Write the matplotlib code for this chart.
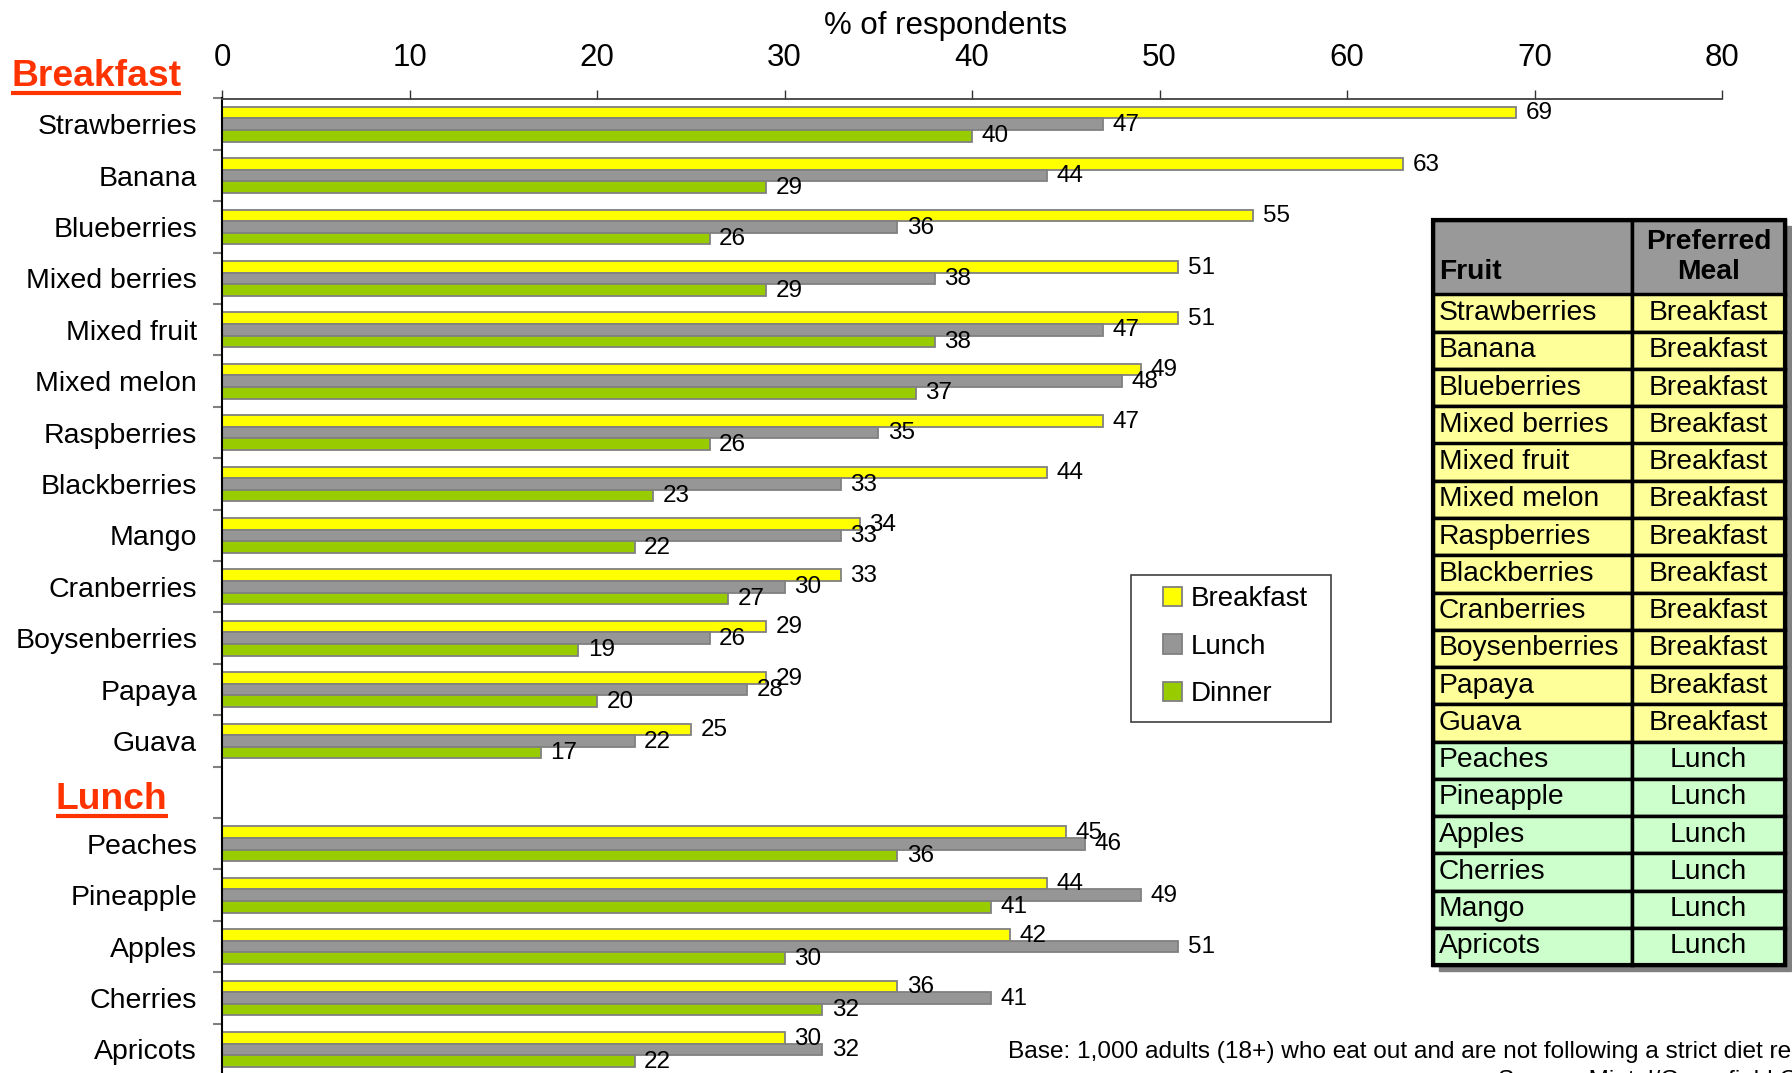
import numpy as np
import matplotlib
matplotlib.use("Agg")
import matplotlib.pyplot as plt
from matplotlib.patches import Rectangle

plt.rcParams['font.family'] = ['Liberation Sans', 'DejaVu Sans']

# ---------------- data ----------------
breakfast_fruits = ["Strawberries", "Banana", "Blueberries", "Mixed berries", "Mixed fruit",
                    "Mixed melon", "Raspberries", "Blackberries", "Mango", "Cranberries",
                    "Boysenberries", "Papaya", "Guava"]
lunch_fruits = ["Peaches", "Pineapple", "Apples", "Cherries", "Apricots"]

breakfast_b = [69, 63, 55, 51, 51, 49, 47, 44, 34, 33, 29, 29, 25]
breakfast_l = [47, 44, 36, 38, 47, 48, 35, 33, 33, 30, 26, 28, 22]
breakfast_d = [40, 29, 26, 29, 38, 37, 26, 23, 22, 27, 19, 20, 17]

lunch_b = [45, 44, 42, 36, 30]
lunch_l = [46, 49, 51, 41, 32]
lunch_d = [36, 41, 30, 32, 22]

series_names = ["Breakfast", "Lunch", "Dinner"]
series_colors = ["#FFFF00", "#969696", "#99CC00"]

x_ticks = [0, 10, 20, 30, 40, 50, 60, 70, 80]

table_fruits = ["Strawberries", "Banana", "Blueberries", "Mixed berries", "Mixed fruit",
                "Mixed melon", "Raspberries", "Blackberries", "Cranberries", "Boysenberries",
                "Papaya", "Guava", "Peaches", "Pineapple", "Apples", "Cherries", "Mango",
                "Apricots"]
table_meals = ["Breakfast"] * 12 + ["Lunch"] * 6
meal_colors = {"Breakfast": "#FFFF99", "Lunch": "#CCFFCC"}

footnote = "Base: 1,000 adults (18+) who eat out and are not following a strict diet regimen"
source = "Source: Mintel/Greenfield Online"

# ---------------- figure ----------------
W, H = 1792, 1073
fig = plt.figure(figsize=(W / 100, H / 100), dpi=100)

top_px = 98.5
slot_px = 51.4
n_slots = len(breakfast_fruits) + 1 + len(lunch_fruits)
bottom_px = top_px + n_slots * slot_px
ax = fig.add_axes([222 / W, 1 - bottom_px / H, 1500 / W, (bottom_px - top_px) / H])

# positions: breakfast rows, one empty slot, lunch rows
pos_b = np.arange(len(breakfast_fruits))
pos_l = np.arange(len(lunch_fruits)) + len(breakfast_fruits) + 1
positions = np.concatenate([pos_b, pos_l])
labels = breakfast_fruits + lunch_fruits
vals = [np.array(breakfast_b + lunch_b), np.array(breakfast_l + lunch_l),
        np.array(breakfast_d + lunch_d)]

bh = 0.225
offsets = [-bh, 0, bh]
handles = []
for v, off, col, name in zip(vals, offsets, series_colors, series_names):
    bars = ax.barh(positions + off, v, height=bh, color=col, edgecolor="#808080",
                   linewidth=1.3, label=name, zorder=2)
    handles.append(bars)
    for p, val in zip(positions + off, v):
        ax.annotate(str(val), (val, p), xytext=(7, -0.5), textcoords="offset points",
                    ha="left", va="center", fontsize=17.5, color="black")

ax.set_xlim(0, 80)
ax.set_ylim(n_slots - 0.5, -0.5)
ax.xaxis.tick_top()
ax.set_xticks(x_ticks)
ax.set_xticklabels([str(t) for t in x_ticks])
ax.tick_params(axis="x", direction="out", length=6.5, width=1, color="#333333",
               labelsize=22.5, pad=12)
ax.set_yticks(positions)
ax.set_yticklabels(labels)
ax.set_yticks(np.arange(-0.5, n_slots, 1.0), minor=True)
ax.tick_params(axis="y", which="major", length=0, labelsize=20.5, pad=18)
ax.tick_params(axis="y", which="minor", length=6.5, width=1.5, color="#808080")
for s in ["right", "bottom"]:
    ax.spines[s].set_visible(False)
ax.spines["left"].set_color("black")
ax.spines["left"].set_linewidth(1.5)
ax.spines["top"].set_color("#404040")
ax.spines["top"].set_linewidth(1.3)
ax.set_facecolor("white")

fig.text(946 / W, 1 - 26 / H, "% of respondents", ha="center", va="center", fontsize=22.5)

# ---------------- overlay for annotations ----------------
ov = fig.add_axes([0, 0, 1, 1], zorder=5)
ov.set_xlim(0, W)
ov.set_ylim(H, 0)
ov.axis("off")
ov.patch.set_visible(False)

t_b = ov.text(11, 86, "Breakfast", ha="left", va="baseline", fontsize=26.8,
              fontweight="bold", color="#FF3300")
t_l = ov.text(56, 809, "Lunch", ha="left", va="baseline", fontsize=26.8,
              fontweight="bold", color="#FF3300")

# legend
ov.add_patch(Rectangle((1131, 575), 200, 147, fill=False, ec="#404040", lw=1.2, zorder=3))
fig.legend(handles, series_names, loc="upper left",
           bbox_to_anchor=(1163 / W, 1 - 586 / H), frameon=False, fontsize=20,
           handlelength=0.7, handleheight=0.7, handletextpad=0.3, labelspacing=0.78,
           borderpad=0, borderaxespad=0)

# table
tx, ty, tw, th = 1433, 220, 352, 745
ov.add_patch(Rectangle((tx + 6, ty + 6), tw, th, color="#808080", zorder=2))
cell_text = [["\nFruit", "Preferred\nMeal"]] + [[f, m] for f, m in zip(table_fruits, table_meals)]
cell_cols = [["#999999", "#999999"]] + [[meal_colors[m]] * 2 for m in table_meals]
tbl = ov.table(cellText=cell_text, cellColours=cell_cols, colWidths=[199, 153],
               cellLoc="center", bbox=[tx / W, 1 - (ty + th) / H, tw / W, th / H])
tbl.auto_set_font_size(False)
tbl.set_fontsize(20.3)
tbl.set_zorder(3)
for (r, c), cell in tbl.get_celld().items():
    cell.set_edgecolor("black")
    cell.set_linewidth(2.5)
    if r == 0:
        cell.set_height(cell.get_height() * 2)
        cell.get_text().set_fontweight("bold")
    if c == 0:
        cell.get_text().set_horizontalalignment("left")
        cell.PAD = 0.03
ov.add_patch(Rectangle((tx, ty), tw, th, fill=False, ec="black", lw=3, zorder=4))

# footnotes
ov.text(1008, 1052, footnote, ha="left", va="center", fontsize=17.6)
ov.text(1498, 1070, source, ha="left", va="top", fontsize=17.6)

# underlines for section titles
fig.canvas.draw()
r = fig.canvas.get_renderer()
inv = ov.transData.inverted()
for t, base in [(t_b, 86), (t_l, 809)]:
    bb = t.get_window_extent(r)
    (x0, _), (x1, _) = inv.transform([(bb.x0, bb.y0), (bb.x1, bb.y1)])
    ov.plot([x0, x1], [base + 7, base + 7], color="#FF3300", lw=3, solid_capstyle="butt")

fig.savefig("out.png", dpi=100)
